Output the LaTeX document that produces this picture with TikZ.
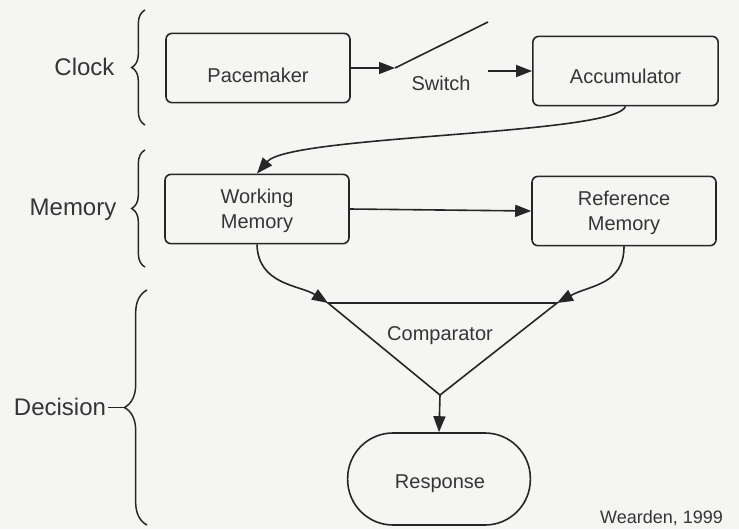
\documentclass[tikz,border=0pt]{standalone}
\usepackage{fontspec}
\setmainfont{Liberation Sans}
\usetikzlibrary{arrows.meta,decorations.pathreplacing}
\definecolor{ink}{HTML}{262626}
\definecolor{txt}{HTML}{353535}
\definecolor{bg}{HTML}{F5F5F3}
\begin{document}
\begin{tikzpicture}[x=0.75pt,y=-0.75pt,
  box/.style={draw=ink, line width=1.2pt, rounded corners=4.5pt, inner sep=0pt,
              minimum width=138pt, minimum height=52pt},
  lbl/.style={font=\fontsize{15}{19}\selectfont, text=txt, align=center, inner sep=0pt},
  big/.style={font=\fontsize{18}{21}\selectfont, text=txt, inner sep=0pt, anchor=base},
  arr/.style={draw=ink, line width=1.2pt, -{Triangle[length=12pt,width=9pt]}},
  ln/.style={draw=ink, line width=1.2pt},
  brc/.style={draw=ink, line width=1.1pt, decorate, decoration={brace, amplitude=#1}},
  brc/.default=10pt
]
\fill[bg] (0,0) rectangle (739,529);
\useasboundingbox (0,0) rectangle (739,529);

% boxes
\node[box] (pm) at (258,68) {};
\node[lbl, anchor=base] (pmt) at (258,82) {Pacemaker};
\node[box, minimum width=139pt] (acc) at (625.5,71) {};
\node[lbl, anchor=base] (acct) at (625.5,83) {Accumulator};
\node[box] (wm) at (257,209) {};
\node[lbl] (wmt) at (257,211) {Working\\Memory};
\node[box] (rm) at (624,211) {};
\node[lbl] (rmt) at (624,212.5) {Reference\\Memory};

% switch
\coordinate (sw1) at (395,68);
\coordinate (sw3) at (488,22);
\coordinate (sw2) at (488,71);
\draw[arr] (pm.east) -- (sw1);
\draw[ln] (sw1) -- (sw3);
\draw[arr] (sw2) -- (acc.west);
\node[lbl, anchor=base] (swt) at (441,90) {Switch};

% accumulator -> working memory
\draw[arr] (acc.south) .. controls (615,135) and (290,135) .. (wm.north);
\draw[arr] (wm.east) -- (rm.west);

% comparator
\coordinate (tl) at (328,303);
\coordinate (tr) at (557,303);
\coordinate (ap) at (440,395);
\draw[ln, line join=miter] (tl) -- (tr) -- (ap) -- cycle;
\node[lbl, anchor=base] (cmp) at (440,340) {Comparator};
\draw[arr] (wm.south) .. controls (258,285) and (300,285) .. (tl);
\draw[arr] (rm.south) .. controls (624,285) and (590,285) .. (tr);

% response
\node[draw=ink, line width=1.2pt, rounded corners=34pt, minimum width=137pt,
      minimum height=69pt, inner sep=0pt] (resp) at (439,479) {};
\node[lbl, anchor=base] (respt) at (440,488) {Response};
\draw[arr] (ap) -- (resp.north);

% braces and labels
\draw[brc] (145,125) -- (145,10);
\node[big] (clk) at (84.5,75) {Clock};
\draw[brc] (145,267) -- (145,150);
\node[big] (mem) at (73,215) {Memory};
\draw[brc=17pt] (147,525) -- (147,290);
\node[big] (dec) at (60,415) {Decision};
\coordinate (dtip) at (124.5,407.5);
\draw[ln, line width=1.1pt] (dec.east |- dtip) ++(2,0) -- (dtip);

\node[font=\fontsize{13.5}{16}\selectfont, text=txt, inner sep=0pt, anchor=base] (cite) at (661.5,523) {Wearden, 1999};
\end{tikzpicture}
\end{document}
